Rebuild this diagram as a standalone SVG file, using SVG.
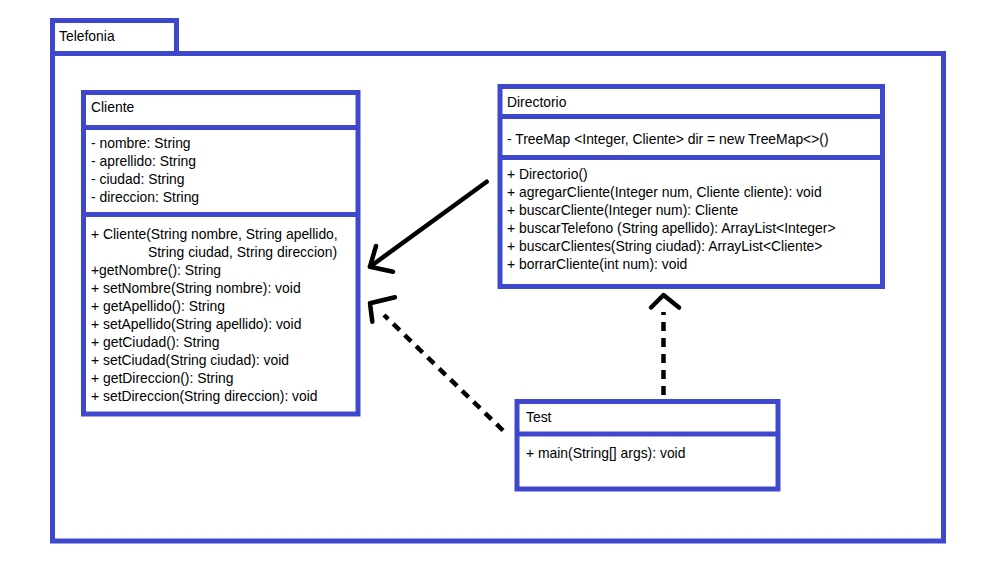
<svg xmlns="http://www.w3.org/2000/svg" width="1008" height="568" viewBox="0 0 1008 568">
<style>
.box{fill:#ffffff;stroke:#3F48CC;stroke-width:5}
.div{stroke:#3F48CC;stroke-width:5}
text{font-family:"Liberation Sans",Arial,sans-serif;font-size:13.9px;fill:#000}
.conn{fill:none;stroke:#000;stroke-width:4.5;stroke-linecap:round;stroke-linejoin:round}
.dash{fill:none;stroke:#000;stroke-width:4.5;stroke-dasharray:9 7}
</style>
<rect width="1008" height="568" fill="#ffffff"/>
<g id="Telefonia">
<rect class="box" x="52.5" y="20.5" width="124" height="33"/>
<rect class="box" x="52.5" y="53.5" width="891" height="487.5"/>
<text x="59" y="41">Telefonia</text>
</g>
<g id="Cliente">
<rect class="box" x="83.5" y="92.5" width="274.5" height="321.5"/>
<line class="div" x1="83.5" y1="127.5" x2="358" y2="127.5"/>
<line class="div" x1="83.5" y1="214.5" x2="358" y2="214.5"/>
<text x="91" y="112">Cliente</text>
<text x="91" y="148">- nombre: String</text>
<text x="91" y="166">- aprellido: String</text>
<text x="91" y="184">- ciudad: String</text>
<text x="91" y="202">- direccion: String</text>
<text x="91" y="239">+ Cliente(String nombre, String apellido,</text>
<text x="148" y="257">String ciudad, String direccion)</text>
<text x="91" y="275">+getNombre(): String</text>
<text x="91" y="293">+ setNombre(String nombre): void</text>
<text x="91" y="311">+ getApellido(): String</text>
<text x="91" y="329">+ setApellido(String apellido): void</text>
<text x="91" y="347">+ getCiudad(): String</text>
<text x="91" y="365">+ setCiudad(String ciudad): void</text>
<text x="91" y="383">+ getDireccion(): String</text>
<text x="91" y="401">+ setDireccion(String direccion): void</text>
</g>
<g id="Directorio">
<rect class="box" x="500" y="86.5" width="382.5" height="200"/>
<line class="div" x1="500" y1="116.5" x2="882.5" y2="116.5"/>
<line class="div" x1="500" y1="157.5" x2="882.5" y2="157.5"/>
<text x="507" y="107">Directorio</text>
<text x="507" y="144">- TreeMap &lt;Integer, Cliente&gt; dir = new TreeMap&lt;&gt;()</text>
<text x="507" y="179">+ Directorio()</text>
<text x="507" y="197">+ agregarCliente(Integer num, Cliente cliente): void</text>
<text x="507" y="215">+ buscarCliente(Integer num): Cliente</text>
<text x="507" y="233">+ buscarTelefono (String apellido): ArrayList&lt;Integer&gt;</text>
<text x="507" y="251">+ buscarClientes(String ciudad): ArrayList&lt;Cliente&gt;</text>
<text x="507" y="269">+ borrarCliente(int num): void</text>
</g>
<g id="Test">
<rect class="box" x="517" y="401.5" width="261" height="87.5"/>
<line class="div" x1="517" y1="434" x2="778" y2="434"/>
<text x="526" y="422">Test</text>
<text x="526" y="458">+ main(String[] args): void</text>
</g>
<g id="connectors">
<path class="conn" d="M486.7,181.7 L370,266.7"/>
<polyline class="conn" points="376,246 370,266.7 393,271.7"/>
<line class="dash" x1="503" y1="430.5" x2="384" y2="315"/>
<polyline class="conn" points="395,297.3 370,303.3 372.3,321.7"/>
<line class="dash" x1="663.5" y1="395" x2="663.5" y2="312"/>
<polyline class="conn" points="651,307.5 663.5,295 679,307.5"/>
</g>
</svg>
